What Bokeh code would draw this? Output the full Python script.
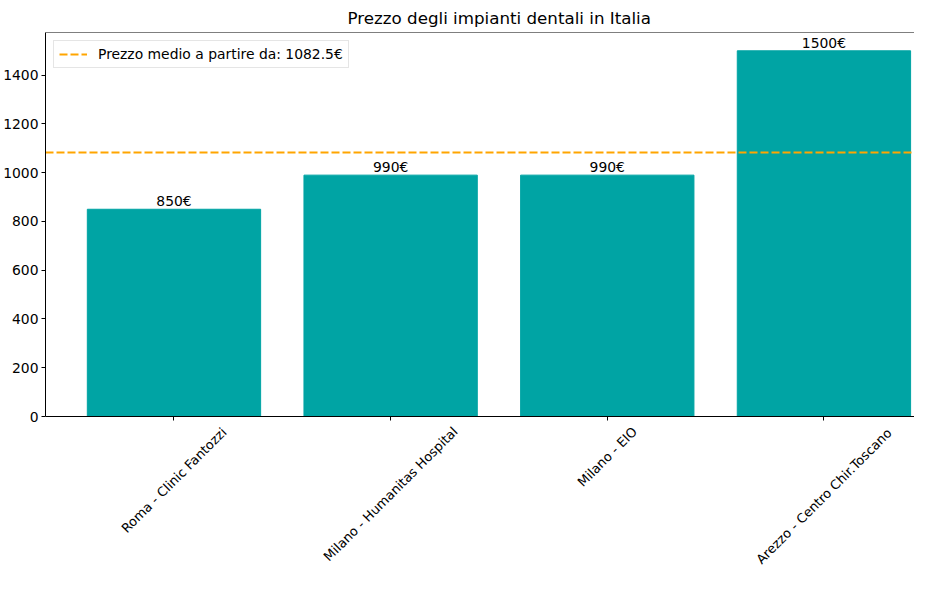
import math
from bokeh.plotting import figure
from bokeh.models import FixedTicker, Span, Range1d
from bokeh.core.properties import value
from bokeh.embed import file_html
from bokeh.resources import INLINE

clinics = ["Roma - Clinic Fantozzi", "Milano - Humanitas Hospital", "Milano - EIO", "Arezzo - Centro Chir.Toscano"]
prices = [850, 990, 990, 1500]
price_labels = ["850€", "990€", "990€", "1500€"]
avg_price = 1082.5
avg_label = "Prezzo medio a partire da: 1082.5€"
y_ticks = [0, 200, 400, 600, 800, 1000, 1200, 1400]
title_text = "Prezzo degli impianti dentali in Italia"

FONT = "DejaVu Sans"
FS = "13.9px"
CAT_FS_PX = 13.0
bar_color = "#00a4a4"

# ---- layout (pixels) ----
W, H = 914, 574
LEFT, TOP = 45, 32
ZERO_PX = 416            # pixel row of y = 0 (the x axis)
Y_MAX = 1575
px_per_unit = (ZERO_PX - TOP) / Y_MAX
y_start = -(H - ZERO_PX) / px_per_unit

# approximate DejaVu Sans advance widths (1/2048 em), used only to place rotated tick labels
_W = {" ": 651, "-": 739, ".": 651, "A": 1401, "C": 1430, "E": 1294, "F": 1178, "H": 1540,
      "I": 604, "M": 1767, "O": 1612, "R": 1423, "T": 1251, "a": 1255, "c": 1126, "e": 1260,
      "h": 1298, "i": 569, "l": 569, "m": 1995, "n": 1298, "o": 1253, "p": 1300, "r": 842,
      "s": 1067, "t": 803, "u": 1298, "z": 1075}


def text_width(s, px):
    return sum(_W.get(ch, 1250) for ch in s) / 2048.0 * px


xs = list(range(len(clinics)))

p = figure(width=W, height=H, output_backend="svg", toolbar_location=None,
           x_range=Range1d(-0.593, 3.418), y_range=Range1d(y_start, Y_MAX),
           min_border_left=LEFT, min_border_right=0, min_border_top=TOP, min_border_bottom=0,
           title=title_text)
p.title.text_font = FONT
p.title.text_font_size = "16.7px"
p.title.text_font_style = "normal"
p.title.text_color = "black"
p.title.align = "left"
p.title.offset = 302

p.xgrid.visible = False
p.ygrid.visible = False
p.outline_line_color = None
p.background_fill_color = "white"

p.vbar(x=xs, top=prices, width=0.8, color=bar_color)
p.text(x=xs, y=prices, text=price_labels, text_align="center", text_baseline="bottom",
       text_font_size=FS, text_font=value(FONT), text_color="black")

p.hspan(y=[avg_price], line_color="orange", line_width=2, line_dash=value("8 3"),
        legend_label=avg_label)

top_spine = Span(location=Y_MAX, dimension="width", line_color="black", line_width=1)
p.add_layout(top_spine)

for ax in (p.xaxis[0], p.yaxis[0]):
    ax.axis_line_color = "black"
    ax.major_tick_line_color = "black"
    ax.major_tick_in = 0
    ax.major_tick_out = 4
    ax.minor_tick_line_color = None
    ax.major_label_text_font = FONT
    ax.major_label_text_font_size = FS
    ax.major_label_text_color = "black"
    ax.major_label_standoff = 3

p.yaxis[0].ticker = FixedTicker(ticks=y_ticks)
p.yaxis[0].bounds = (0, Y_MAX)
p.xaxis[0].ticker = FixedTicker(ticks=xs)
p.xaxis[0].fixed_location = 0
p.xaxis[0].major_label_overrides = {i: "" for i in xs}

# rotated category labels, centred under each tick (as matplotlib does)
c45 = math.cos(math.pi / 4)
label_y = [-(7.5 + (text_width(name, CAT_FS_PX) + 15) * c45 / 2) / px_per_unit for name in clinics]
p.text(x=xs, y=label_y, text=clinics, angle=math.pi / 4, text_align="center",
       text_baseline="middle", text_font_size=f"{CAT_FS_PX}px", text_font=value(FONT),
       text_color="black")

lg = p.legend[0]
lg.location = "top_left"
lg.margin = 8
lg.padding = 5
lg.spacing = 0
lg.glyph_width = 28
lg.glyph_height = 16
lg.label_height = 16
lg.label_standoff = 11
lg.label_text_font = FONT
lg.label_text_font_size = FS
lg.label_text_color = "black"
lg.border_line_color = "#cccccc"
lg.background_fill_alpha = 0.8

open("out.html", "w").write(file_html(p, INLINE))
